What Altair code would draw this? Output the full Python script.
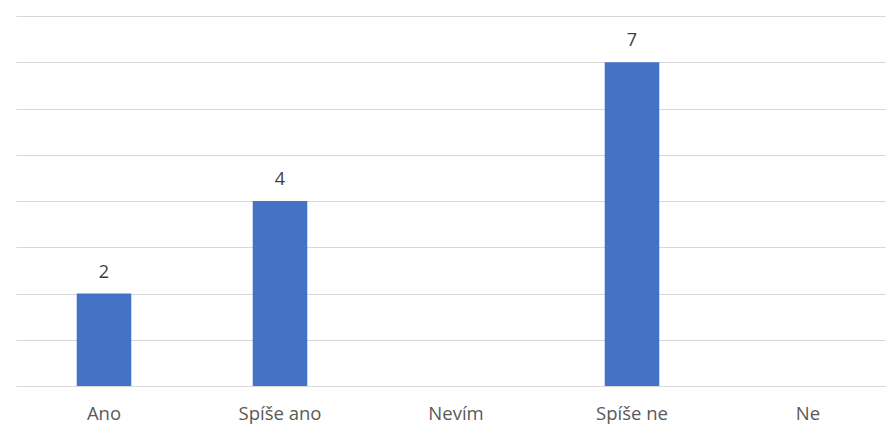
import altair as alt
import pandas as pd

# Survey answers and their counts
categories = ["Ano", "Spíše ano", "Nevím", "Spíše ne", "Ne"]
counts = [2, 4, 0, 7, 0]
y_ticks = [0, 1, 2, 3, 4, 5, 6, 7, 8]

df = pd.DataFrame({"odpoved": categories, "pocet": counts})

FONT = "Open Sans"

x_enc = alt.X(
    "odpoved:N",
    sort=categories,
    scale=alt.Scale(range=[0, 880], paddingInner=0.69, paddingOuter=0.345),
    axis=alt.Axis(
        title=None,
        domain=False,
        ticks=False,
        grid=False,
        labelAngle=0,
        labelFont=FONT,
        labelFontSize=18.5,
        labelColor="#595959",
        labelPadding=18,
    ),
)

y_enc = alt.Y(
    "pocet:Q",
    scale=alt.Scale(domain=[0, 8], nice=False),
    axis=alt.Axis(
        title=None,
        values=y_ticks,
        labels=False,
        ticks=False,
        domain=False,
        grid=True,
        gridColor="#d9d9d9",
        gridWidth=1,
    ),
)

bars = alt.Chart(df).mark_bar(color="#4472C4").encode(x=x_enc, y=y_enc)

labels = (
    alt.Chart(df)
    .transform_filter("datum.pocet > 0")
    .mark_text(baseline="bottom", dy=-12, font=FONT, fontSize=18, color="#404040")
    .encode(x=x_enc, y=y_enc, text="pocet:Q")
)

chart = (
    alt.layer(bars, labels)
    .properties(
        width=870,
        height=370,
        background="white",
        padding={"left": 16, "top": 16, "right": 0, "bottom": 39},
        autosize=alt.AutoSizeParams(type="none"),
    )
    .configure_view(stroke=None)
)

chart.save("out.html", embed_options={"renderer": "svg", "actions": False})
